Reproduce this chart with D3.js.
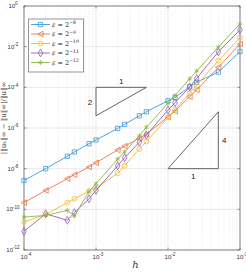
<!DOCTYPE html>
<html>
<head>
<meta charset="utf-8">
<script src="https://cdn.jsdelivr.net/npm/d3@7"></script>
<style>
  body { margin: 0; background: #fff; }
  svg { display: block; font-family: "Liberation Sans", Arial, sans-serif; }
</style>
</head>
<body>
<svg id="chart" width="246" height="274"></svg>
<script>
// grid sizes h
const hValues = [1e-4, 2e-4, 4e-4, 5e-4, 8e-4, 1e-3, 2e-3, 2.5e-3, 4e-3, 5e-3, 1e-2, 1.25e-2, 2e-2, 2.5e-2, 5e-2, 1e-1];

// log10 of the error, one array per epsilon
const errEps8  = [-8.58, -8.00, -7.39, -7.18, -6.77, -6.59, -6.02, -5.82, -5.40, -5.20, -4.66, -4.50, -3.97, -3.75, -3.25, -2.24];
const errEps9  = [-9.67, -9.07, -8.49, -8.30, -7.92, -7.71, -7.08, -6.89, -6.51, -6.31, -5.45, -5.17, -4.46, -4.13, -3.02, -1.87];
const errEps10 = [-10.62, -10.25, -9.67, -9.48, -9.10, -8.94, -8.23, -7.86, -7.03, -6.67, -5.48, -5.10, -4.29, -3.89, -2.69, -1.55];
const errEps11 = [-11.08, -10.22, -10.54, -10.17, -9.48, -9.07, -7.86, -7.46, -6.70, -6.35, -5.12, -4.76, -3.98, -3.56, -2.26, -1.17];
const errEps12 = [-10.38, -10.30, -10.05, -10.33, -9.12, -8.74, -7.53, -7.17, -6.38, -5.97, -4.78, -4.40, -3.58, -3.20, -2.02, -0.88];

const seriesNames = ["-8", "-9", "-10", "-11", "-12"];
const seriesColors = ["#3d9ad8", "#e8764a", "#f2b93a", "#9a5bb0", "#86bb45"];

const xTicks = [1e-4, 1e-3, 1e-2, 1e-1];
const yTicks = [1e0, 1e-2, 1e-4, 1e-6, 1e-8, 1e-10, 1e-12];

// slope triangles: [h, err] corners
const triSlope2 = [[1e-3, 1e-4], [5e-3, 1e-4], [1e-3, 4e-6]];
const triSlope4 = [[1e-2, 1e-8], [5e-2, 1e-8], [5e-2, 6.25e-6]];

const svg = d3.select("#chart");
const pL = 24, pR = 240, pT = 6, pB = 250;

const x = d3.scaleLog().domain([1e-4, 1e-1]).range([pL, pR]);
const y = d3.scaleLog().domain([1e-12, 1]).range([pB, pT]);

// minor vertical grid (dotted)
const minorX = [];
for (let e = -4; e < -1; e++) for (let k = 2; k <= 9; k++) minorX.push(k * Math.pow(10, e));
svg.append("g").selectAll("line").data(minorX).enter().append("line")
  .attr("x1", d => x(d)).attr("x2", d => x(d))
  .attr("y1", pT).attr("y2", pB)
  .attr("stroke", "#d9d9d9").attr("stroke-width", 0.6)
  .attr("stroke-dasharray", "1,1.5");

// major grid
svg.append("g").selectAll("line").data(xTicks).enter().append("line")
  .attr("x1", d => x(d)).attr("x2", d => x(d))
  .attr("y1", pT).attr("y2", pB)
  .attr("stroke", "#e3e3e3").attr("stroke-width", 0.8);
svg.append("g").selectAll("line").data(yTicks).enter().append("line")
  .attr("x1", pL).attr("x2", pR)
  .attr("y1", d => y(d)).attr("y2", d => y(d))
  .attr("stroke", "#e3e3e3").attr("stroke-width", 0.8);

// frame
svg.append("rect")
  .attr("x", pL).attr("y", pT)
  .attr("width", pR - pL).attr("height", pB - pT)
  .attr("fill", "none").attr("stroke", "#6b6b6b").attr("stroke-width", 0.8);

// inward ticks
const tickG = svg.append("g").attr("stroke", "#6b6b6b").attr("stroke-width", 0.7);
yTicks.forEach(t => {
  tickG.append("line").attr("x1", pL).attr("x2", pL + 2.5).attr("y1", y(t)).attr("y2", y(t));
  tickG.append("line").attr("x1", pR).attr("x2", pR - 2.5).attr("y1", y(t)).attr("y2", y(t));
});
xTicks.forEach(t => {
  tickG.append("line").attr("x1", x(t)).attr("x2", x(t)).attr("y1", pB).attr("y2", pB - 2.5);
  tickG.append("line").attr("x1", x(t)).attr("x2", x(t)).attr("y1", pT).attr("y2", pT + 2.5);
});

function powLabel(sel, exp) {
  sel.append("tspan").text("10");
  sel.append("tspan").attr("dy", -2.6).attr("font-size", 4.6).text(exp);
}

// tick labels
yTicks.forEach(t => {
  const e = Math.round(Math.log10(t));
  const txt = svg.append("text")
    .attr("x", pL - 11).attr("y", y(t) + 2)
    .attr("font-size", 6).attr("fill", "#333").attr("text-anchor", "middle");
  powLabel(txt, e === 0 ? "0" : String(e));
});
xTicks.forEach(t => {
  const e = Math.round(Math.log10(t));
  const txt = svg.append("text")
    .attr("x", x(t) + 2).attr("y", pB + 9)
    .attr("font-size", 6).attr("fill", "#333").attr("text-anchor", "middle");
  powLabel(txt, String(e));
});

// axis labels
svg.append("text")
  .attr("x", x(Math.pow(10, -2.45))).attr("y", 268)
  .attr("font-family", "DejaVu Serif, serif").attr("font-style", "italic")
  .attr("font-size", 10).attr("fill", "#333").attr("text-anchor", "middle")
  .text("h");
svg.append("text")
  .attr("transform", "translate(6,118) rotate(-90)")
  .attr("font-family", "DejaVu Serif, serif")
  .attr("font-size", 7).attr("fill", "#444").attr("text-anchor", "middle")
  .text("|‖uₕ‖∞ − ‖u‖∞|/‖u‖∞");

// slope triangles
const tri = d3.line().x(d => x(d[0])).y(d => y(d[1]));
[triSlope2, triSlope4].forEach(t => {
  svg.append("path").attr("d", tri(t) + "Z")
    .attr("fill", "none").attr("stroke", "#555").attr("stroke-width", 0.9);
});
svg.append("text").attr("x", x(Math.sqrt(1e-3 * 5e-3))).attr("y", y(1e-4) - 3)
  .attr("font-size", 8).attr("text-anchor", "middle").attr("fill", "#222").text("1");
svg.append("text").attr("x", x(1e-3) - 6).attr("y", y(Math.sqrt(1e-4 * 4e-6)) + 3)
  .attr("font-size", 8).attr("text-anchor", "middle").attr("fill", "#222").text("2");
svg.append("text").attr("x", x(Math.sqrt(1e-2 * 5e-2))).attr("y", y(1e-8) + 10)
  .attr("font-size", 8).attr("text-anchor", "middle").attr("fill", "#222").text("1");
svg.append("text").attr("x", x(5e-2) + 6).attr("y", y(Math.sqrt(1e-8 * 6.25e-6)) + 3)
  .attr("font-size", 8).attr("text-anchor", "middle").attr("fill", "#222").text("4");

// series
const allErr = [errEps8, errEps9, errEps10, errEps11, errEps12];
const triLeft = { draw(ctx, size) { const r = Math.sqrt(size) * 0.62; ctx.moveTo(-r, 0); ctx.lineTo(r * 0.9, -r); ctx.lineTo(r * 0.9, r); ctx.closePath(); } };
const markerTypes = [d3.symbolSquare, triLeft, d3.symbolCircle, d3.symbolDiamond, d3.symbolAsterisk];
const markerSizes = [18, 20, 18, 18, 16];

const line = d3.line().x(d => x(d.h)).y(d => y(d.v));
allErr.forEach((arr, i) => {
  const pts = hValues.map((h, j) => ({ h: h, v: Math.pow(10, arr[j]) }));
  const g = svg.append("g");
  g.append("path").attr("d", line(pts))
    .attr("fill", "none").attr("stroke", seriesColors[i]).attr("stroke-width", 0.9);
  g.selectAll("path.m").data(pts).enter().append("path")
    .attr("class", "m")
    .attr("transform", d => `translate(${x(d.h)},${y(d.v)})`)
    .attr("d", d3.symbol().type(markerTypes[i]).size(markerSizes[i]))
    .attr("fill", "none").attr("stroke", seriesColors[i]).attr("stroke-width", 0.8);
});

// legend
const lg = svg.append("g");
lg.append("rect").attr("x", 28.5).attr("y", 19).attr("width", 55).attr("height", 53)
  .attr("fill", "#fff").attr("stroke", "#7a7a7a").attr("stroke-width", 0.8);
seriesNames.forEach((s, i) => {
  const ly = 24.5 + i * 9.5;
  lg.append("line").attr("x1", 31).attr("x2", 50).attr("y1", ly).attr("y2", ly)
    .attr("stroke", seriesColors[i]).attr("stroke-width", 0.9);
  lg.append("path").attr("transform", `translate(40.5,${ly})`)
    .attr("d", d3.symbol().type(markerTypes[i]).size(markerSizes[i]))
    .attr("fill", "none").attr("stroke", seriesColors[i]).attr("stroke-width", 0.8);
  const t = lg.append("text").attr("x", 52).attr("y", ly + 2.3)
    .attr("font-family", "DejaVu Serif, serif").attr("font-size", 6.5).attr("fill", "#222");
  t.append("tspan").attr("font-style", "italic").text("ε");
  t.append("tspan").text(" = 2");
  t.append("tspan").attr("dy", -2.8).attr("font-size", 4.6).text("−" + s.slice(1));
});
</script>
</body>
</html>
